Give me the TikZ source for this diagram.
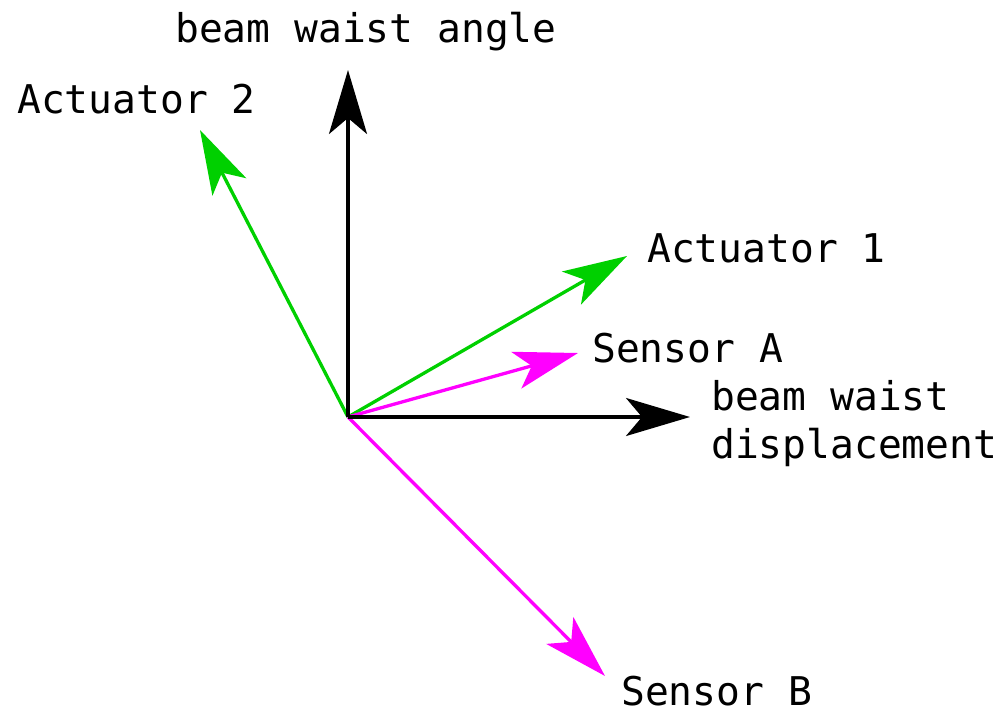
\documentclass[tikz,border=0pt]{standalone}
\usepackage{fontspec}
\setmainfont{DejaVu Sans Mono}
\usetikzlibrary{arrows.meta}
\definecolor{actgreen}{RGB}{0,208,0}
\definecolor{senmag}{RGB}{255,0,255}
\begin{document}
\begin{tikzpicture}[x=1pt,y=-1pt,
  vec/.style={line width=3.3pt,-{Stealth[length=64pt,width=38pt,inset=16pt]}},
  lbl/.style={anchor=base west,inner sep=0pt,font=\fontsize{39.6}{48}\selectfont}]
\useasboundingbox (0,0) rectangle (1004,709);
\coordinate (O) at (348,417);
\coordinate (up) at (348,70);
\coordinate (right) at (690,417);
\coordinate (a2) at (200,130);
\coordinate (a1) at (627,256);
\coordinate (sa) at (578,353);
\coordinate (sb) at (605,676);
\draw[vec,actgreen] (O) -- (a2);
\draw[vec,actgreen] (O) -- (a1);
\draw[vec,senmag] (O) -- (sa);
\draw[vec,senmag] (O) -- (sb);
\draw[vec,black] (O) -- (up);
\draw[vec,black] (O) -- (right);
\node[lbl] (tangle) at (175,43) {beam waist angle};
\node[lbl] (tact2) at (17,113) {Actuator 2};
\node[lbl] (tact1) at (647,262) {Actuator 1};
\node[lbl] (tsa) at (592,362) {Sensor A};
\node[lbl,align=left] (tdisp) at (711,458) {beam waist\\displacement};
\node[lbl] (tsb) at (621,705) {Sensor B};
\end{tikzpicture}
\end{document}
